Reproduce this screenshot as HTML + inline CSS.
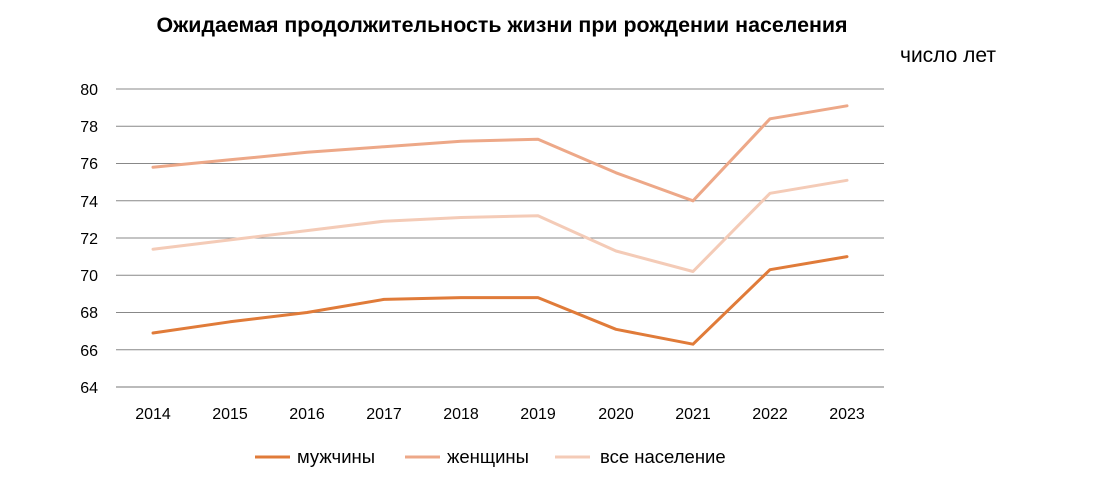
<!DOCTYPE html>
<html><head><meta charset="utf-8"><style>
html,body{margin:0;padding:0;background:#fff;}
svg{display:block;font-family:"Liberation Sans",sans-serif;}
</style></head><body>
<svg width="1109" height="493" viewBox="0 0 1109 493" xmlns="http://www.w3.org/2000/svg">
<rect width="1109" height="493" fill="#fff"/>
<text x="502" y="32" text-anchor="middle" font-size="21.4" font-weight="bold" fill="#000">Ожидаемая продолжительность жизни при рождении населения</text>
<text x="900" y="62" font-size="21" fill="#000">число лет</text>
<g stroke="#888" stroke-width="1">
<line x1="116" y1="89" x2="884" y2="89"/>
<line x1="116" y1="126.25" x2="884" y2="126.25"/>
<line x1="116" y1="163.5" x2="884" y2="163.5"/>
<line x1="116" y1="200.75" x2="884" y2="200.75"/>
<line x1="116" y1="238" x2="884" y2="238"/>
<line x1="116" y1="275.25" x2="884" y2="275.25"/>
<line x1="116" y1="312.5" x2="884" y2="312.5"/>
<line x1="116" y1="349.75" x2="884" y2="349.75"/>
<line x1="116" y1="387" x2="884" y2="387" stroke="#777"/>
</g>
<g font-size="16" fill="#000" text-anchor="end">
<text x="98" y="95">80</text><text x="98" y="132">78</text><text x="98" y="169">76</text>
<text x="98" y="207">74</text><text x="98" y="244">72</text><text x="98" y="281">70</text>
<text x="98" y="318">68</text><text x="98" y="356">66</text><text x="98" y="393">64</text>
</g>
<g font-size="16" fill="#000" text-anchor="middle">
<text x="153" y="419">2014</text><text x="230" y="419">2015</text><text x="307" y="419">2016</text>
<text x="384" y="419">2017</text><text x="461" y="419">2018</text><text x="538" y="419">2019</text>
<text x="616" y="419">2020</text><text x="693" y="419">2021</text><text x="770" y="419">2022</text>
<text x="847" y="419">2023</text>
</g>
<g fill="none" stroke-width="3" stroke-linejoin="round" stroke-linecap="round">
<polyline stroke="#F4CBB7" points="153,249.2 230,239.9 307,230.6 384,221.2 461,217.5 538,215.7 616,251 693,271.5 770,193.3 847,180.3"/>
<polyline stroke="#EDA888" points="153,167.2 230,159.8 307,152.3 384,146.7 461,141.2 538,139.3 616,172.8 693,200.8 770,118.8 847,105.8"/>
<polyline stroke="#E07B39" points="153,333 230,321.8 307,312.5 384,299.4 461,297.6 538,297.6 616,329.3 693,344.2 770,269.7 847,256.6"/>
</g>
<g stroke-width="3">
<line x1="255" y1="457" x2="290" y2="457" stroke="#E07B39"/>
<line x1="405" y1="457" x2="440" y2="457" stroke="#EDA888"/>
<line x1="555" y1="457" x2="590" y2="457" stroke="#F4CBB7"/>
</g>
<g font-size="18.5" fill="#000">
<text x="297" y="463">мужчины</text>
<text x="447" y="463">женщины</text>
<text x="600" y="463">все население</text>
</g>
</svg>
</body></html>
